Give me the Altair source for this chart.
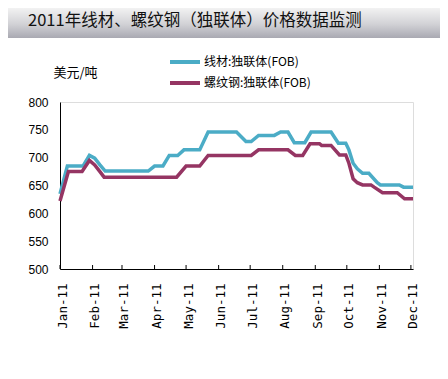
import altair as alt
import pandas as pd

series_names = ["线材:独联体(FOB)", "螺纹钢:独联体(FOB)"]
colors = ["#4BACC6", "#953563"]

wire_dates = ["2011-01-01", "2011-01-08", "2011-01-23", "2011-01-29", "2011-02-03", "2011-02-08",
              "2011-02-13", "2011-03-26", "2011-04-01", "2011-04-09", "2011-04-15", "2011-04-23",
              "2011-04-29", "2011-05-14", "2011-05-22", "2011-06-18", "2011-06-27", "2011-07-02",
              "2011-07-09", "2011-07-24", "2011-07-30", "2011-08-06", "2011-08-12", "2011-08-22",
              "2011-08-28", "2011-09-16", "2011-09-23", "2011-09-30", "2011-10-03", "2011-10-07",
              "2011-10-11", "2011-10-16", "2011-10-22", "2011-10-30", "2011-11-02", "2011-11-20",
              "2011-11-24", "2011-12-03"]
wire_values = [635, 685, 685, 704, 699, 687, 676, 676, 685, 685, 704, 704, 714, 714, 746, 746,
               729, 729, 740, 740, 746, 746, 727, 727, 746, 746, 726, 726, 714, 690, 680, 672,
               672, 655, 651, 651, 647, 647]

rebar_dates = ["2011-01-01", "2011-01-09", "2011-01-22", "2011-01-29", "2011-02-03", "2011-02-08",
               "2011-02-12", "2011-04-22", "2011-05-01", "2011-05-14", "2011-05-22", "2011-07-02",
               "2011-07-09", "2011-08-06", "2011-08-13", "2011-08-20", "2011-08-27", "2011-09-05",
               "2011-09-07", "2011-09-16", "2011-09-24", "2011-09-30", "2011-10-03", "2011-10-07",
               "2011-10-11", "2011-10-16", "2011-10-24", "2011-10-27", "2011-11-04", "2011-11-18",
               "2011-11-25", "2011-12-03"]
rebar_values = [622, 675, 675, 695, 687, 675, 665, 665, 685, 685, 704, 704, 714, 714, 704, 704,
                725, 725, 722, 722, 705, 705, 690, 662, 655, 651, 651, 647, 637, 637, 626, 626]

month_ticks = ["2011-01-01", "2011-02-01", "2011-03-01", "2011-04-01", "2011-05-01", "2011-06-01",
               "2011-07-01", "2011-08-01", "2011-09-01", "2011-10-01", "2011-11-01", "2011-12-01"]

title_text = "2011年线材、螺纹钢（独联体）价格数据监测"
y_title = "美元/吨"

df = pd.concat([
    pd.DataFrame({"date": wire_dates, "value": wire_values, "series": series_names[0]}),
    pd.DataFrame({"date": rebar_dates, "value": rebar_values, "series": series_names[1]}),
])

W, H = 353, 167

x_scale = alt.Scale(domain=["2011-01-01", "2011-12-03"])
x_axis = alt.Axis(format="%b-%y", values=month_ticks, labelAngle=270, ticks=False,
                  tickSize=0, labelPadding=14, labelOffset=2, grid=False, title=None,
                  labelFont="DejaVu Sans Mono", labelFontSize=12.5, labelColor="#000",
                  domainColor="#000", labelOverlap=False, labelFlush=False, labelBound=False)

lines = alt.Chart(df).mark_line(strokeWidth=3.5, interpolate="linear").encode(
    x=alt.X("date:T", scale=x_scale, axis=x_axis),
    y=alt.Y("value:Q", scale=alt.Scale(domain=[500, 800], nice=False, zero=False),
            axis=alt.Axis(values=[500, 550, 600, 650, 700, 750, 800], ticks=False, tickSize=0,
                          labelPadding=12, grid=False, title=y_title, titleAngle=0,
                          titleX=-7, titleY=-30, titleAlign="left", titleBaseline="middle",
                          titleFont="Noto Sans CJK SC", titleFontSize=13, titleFontWeight="normal",
                          titleColor="#000", labelFont="Liberation Sans", labelFontSize=12,
                          labelColor="#000", domainColor="#000")),
    color=alt.Color("series:N", scale=alt.Scale(domain=series_names, range=colors),
                    legend=alt.Legend(title=None, orient="none", legendX=108, legendY=-46,
                                      symbolType="stroke", symbolSize=900, symbolStrokeWidth=4,
                                      clipHeight=12,
                                      labelFont="Noto Sans CJK SC", labelFontSize=12,
                                      labelColor="#000", labelOffset=2, rowPadding=9,
                                      padding=0)),
)

ticks = alt.Chart(pd.DataFrame({"date": month_ticks})).mark_rule(color="#000", strokeWidth=1).encode(
    x=alt.X("date:T", scale=x_scale, axis=x_axis),
    y=alt.value(H - 4),
    y2=alt.value(H),
)

banner = alt.Chart(pd.DataFrame({"t": [title_text]})).mark_rect(
    color=alt.Gradient(gradient="linear", x1=0, x2=0, y1=0, y2=1,
                       stops=[alt.GradientStop(color="#f4f4f4", offset=0),
                              alt.GradientStop(color="#d2d2d6", offset=0.55),
                              alt.GradientStop(color="#a9a9b2", offset=1)])
).encode(
    x=alt.value(-53), x2=alt.value(380), y=alt.value(-95), y2=alt.value(-64),
)

title = alt.Chart(pd.DataFrame({"t": [title_text]})).mark_text(
    align="left", baseline="middle", font="Noto Sans CJK SC", fontSize=16.5, color="#111"
).encode(
    x=alt.value(-32), y=alt.value(-81), text="t:N",
)

chart = alt.layer(banner, title, lines, ticks).properties(
    width=W, height=H,
    autosize=alt.AutoSizeParams(type="none"),
    padding={"left": 52, "top": 94, "right": 27, "bottom": 94},
).configure_view(stroke=None).configure(background="white")

chart.save("out.html", embed_options={"renderer": "svg", "actions": False})
